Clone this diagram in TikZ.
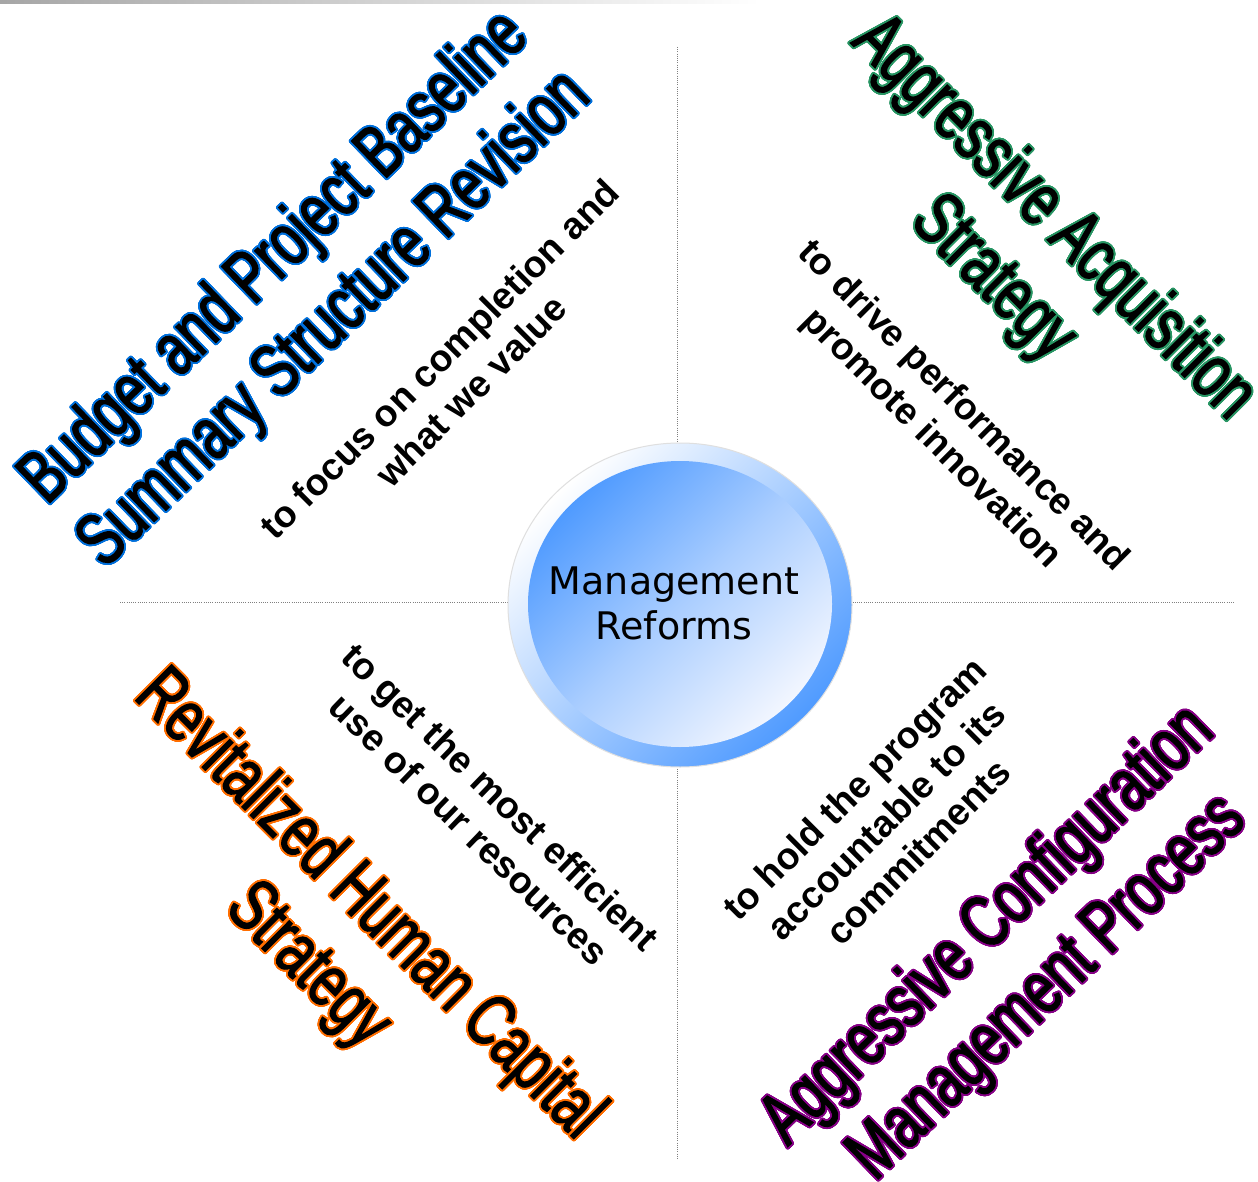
\documentclass[tikz,border=0pt]{standalone}
\usepackage{fontspec}
\setmainfont{Liberation Sans}
\newfontfamily\narrowfont[FakeStretch=0.72,FakeBold=1.5]{Liberation Sans}
\newfontfamily\hubfont{DejaVu Sans}
\usepackage{contour}
\contourlength{1.8pt}
\contournumber{32}
\definecolor{cblue}{RGB}{0,112,220}
\definecolor{cgreen}{RGB}{40,150,100}
\definecolor{corange}{RGB}{255,110,0}
\definecolor{cpurple}{RGB}{135,0,135}
\definecolor{hubblue}{RGB}{80,155,255}
\definecolor{hubpale}{RGB}{242,246,255}
\tikzset{
  bigtext/.style={font=\narrowfont\fontsize{74}{86}\selectfont, align=center, inner sep=0pt},
  smalltext/.style={font=\bfseries\fontsize{37.5}{45}\selectfont, align=center, inner sep=0pt},
  guide/.style={draw=gray, line width=0.8pt, dash pattern=on 1pt off 1.2pt},
}
\begin{document}
\begin{tikzpicture}[x=1pt,y=1pt]
\useasboundingbox (0,0) rectangle (1258,-1182);
\fill[white] (0,0) rectangle (1258,-1182);
% top shadow bar
\shade[left color=gray!70, right color=white] (0,0) rectangle (760,-4);
% guide lines
\coordinate (vtop) at (677,-47);
\coordinate (vbot) at (677,-1160);
\coordinate (hleft) at (120,-602);
\coordinate (hright) at (1235,-602);
\draw[guide] (vtop) -- (vbot);
\draw[guide] (hleft) -- (hright);
% hub
\shade[top color=white, bottom color=hubblue, shading angle=45, draw=gray!25, line width=1pt]
  (680,-605) ellipse [x radius=172, y radius=162];
\shade[top color=hubblue, bottom color=hubpale, middle color=hubblue!45!hubpale, shading angle=45]
  (680,-604) ellipse [x radius=152, y radius=143];
\node[font=\hubfont\fontsize{38}{45}\selectfont, align=center, inner sep=0pt] (hub) at (674,-603) {Management\\Reforms};
% big titles
\node[bigtext, rotate=44] (budget) at (306,-290)
  {\contour{cblue}{Budget and Project Baseline}\\\contour{cblue}{Summary Structure Revision}};
\node[bigtext, rotate=-45] (acq) at (1022,-250)
  {\contour{cgreen}{Aggressive Acquisition}\\\contour{cgreen}{Strategy}};
\node[bigtext, rotate=-45] (human) at (337,-937)
  {\contour{corange}{Revitalized Human Capital}\\\contour{corange}{Strategy}};
\node[bigtext, rotate=44] (config) at (1019,-958)
  {\contour{cpurple}{Aggressive Configuration}\\\contour{cpurple}{Management Process}};
% small captions
\node[smalltext, rotate=45] (focus) at (455,-375) {to focus on completion and\\what we value};
\node[smalltext, rotate=-45] (drive) at (947,-423) {to drive performance and\\promote innovation};
\node[smalltext, rotate=-44] (efficient) at (485,-813) {to get the most efficient\\use of our resources};
\node[smalltext, rotate=45] (hold) at (886,-820) {to hold the program\\accountable to its\\commitments};
\end{tikzpicture}
\end{document}
